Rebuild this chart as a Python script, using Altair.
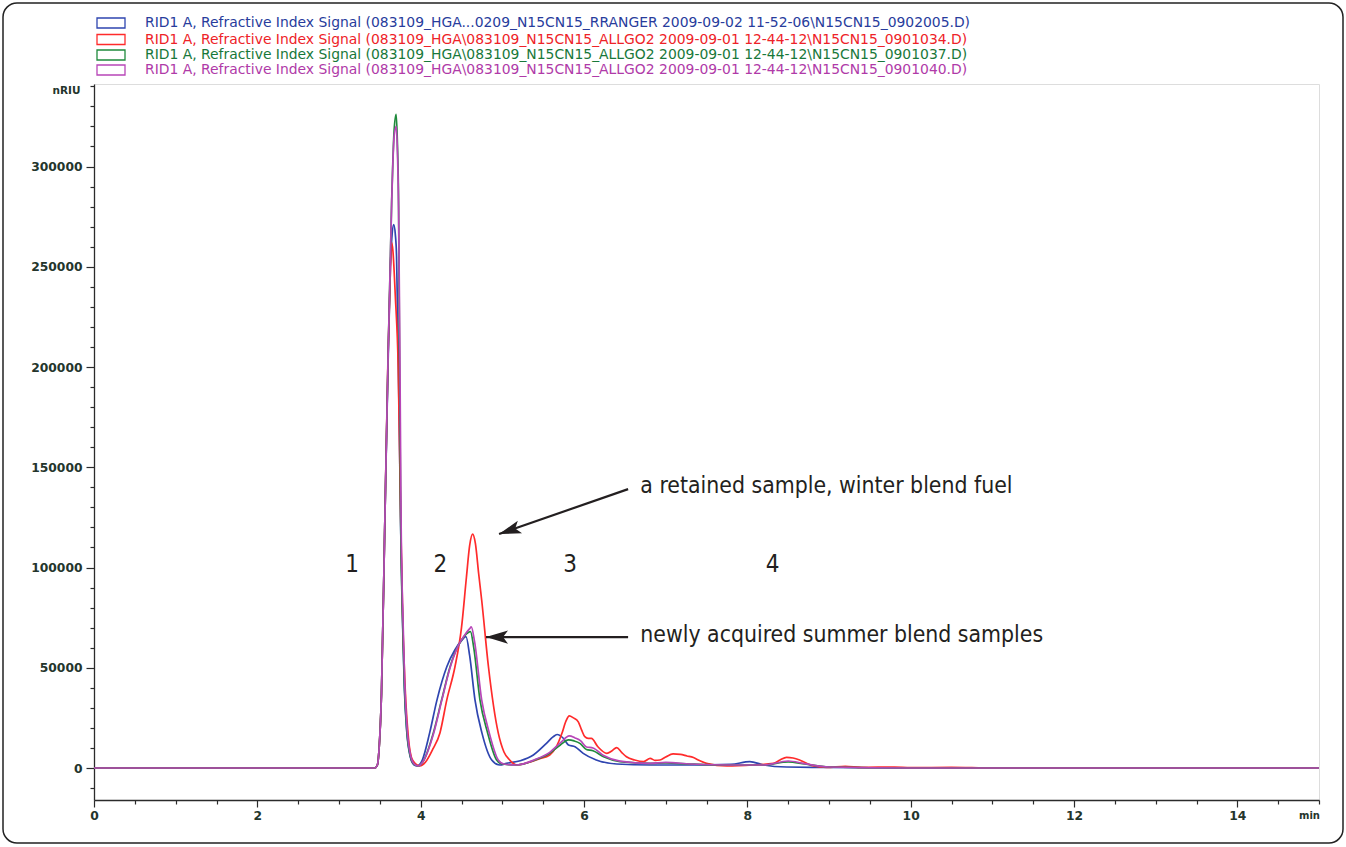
import altair as alt
import pandas as pd

# ---------------- data ----------------
series_names = [
    "RID1 A, Refractive Index Signal (083109_HGA...0209_N15CN15_RRANGER 2009-09-02 11-52-06\\N15CN15_0902005.D)",
    "RID1 A, Refractive Index Signal (083109_HGA\\083109_N15CN15_ALLGO2 2009-09-01 12-44-12\\N15CN15_0901034.D)",
    "RID1 A, Refractive Index Signal (083109_HGA\\083109_N15CN15_ALLGO2 2009-09-01 12-44-12\\N15CN15_0901037.D)",
    "RID1 A, Refractive Index Signal (083109_HGA\\083109_N15CN15_ALLGO2 2009-09-01 12-44-12\\N15CN15_0901040.D)",
]
line_colors = ["#2f45b0", "#ff2b2b", "#1f8a3c", "#b846b8"]
text_colors = ["#283c9c", "#ee2228", "#18783a", "#b03aa8"]

blue_t = [0, 3.44, 3.47, 3.49, 3.52, 3.56, 3.60, 3.63, 3.65, 3.67, 3.69, 3.705, 3.725, 3.74, 3.755,
          3.78, 3.80, 3.83, 3.87, 3.92, 3.96, 4.02, 4.11, 4.20, 4.32, 4.42, 4.50, 4.555, 4.60,
          4.665, 4.75, 4.87, 4.97, 5.05, 5.22, 5.38, 5.54, 5.62, 5.67, 5.75, 5.81, 5.89, 5.99,
          6.15, 6.40, 6.81, 7.3, 7.8, 8.03, 8.2, 8.48, 9.0, 10.0, 15.0]
blue_v = [0, 0, 1500, 9000, 37000, 120000, 200000, 250000, 266000, 271000, 266000, 255000, 205000,
          165000, 120000, 70000, 40000, 18000, 6000, 1500, 1000, 4000, 17500, 34000, 50500, 59000,
          63500, 65500, 56000, 34000, 17500, 4000, 1500, 2300, 3600, 6500, 12300, 15500, 16700,
          14700, 11500, 10600, 7300, 4000, 2000, 1500, 1500, 1800, 3200, 1500, 500, 300, 0, 0]

red_t = [0, 3.44, 3.47, 3.49, 3.52, 3.56, 3.60, 3.63, 3.645, 3.66, 3.69, 3.725, 3.755, 3.78, 3.81,
         3.85, 3.90, 3.99, 4.06, 4.15, 4.236, 4.32, 4.42, 4.50, 4.56, 4.60, 4.636, 4.67, 4.71,
         4.747, 4.83, 4.95, 5.02, 5.09, 5.175, 5.30, 5.45, 5.58, 5.66, 5.73, 5.78, 5.82, 5.87,
         5.93, 5.97, 6.01, 6.05, 6.09, 6.17, 6.28, 6.34, 6.40, 6.46, 6.52, 6.62, 6.73, 6.81,
         6.87, 6.93, 7.0, 7.09, 7.18, 7.26, 7.34, 7.42, 7.50, 7.75, 8.07, 8.32, 8.40, 8.48, 8.56,
         8.64, 8.72, 8.81, 8.97, 9.2, 9.4, 9.8, 10.0, 10.5, 11.0, 15.0]
red_v = [0, 0, 1500, 9000, 37000, 120000, 205000, 250000, 262000, 258000, 235000, 200000, 125000,
         75000, 40000, 15000, 4000, 1000, 3000, 9500, 17500, 34000, 50500, 70000, 95000, 111000,
         116600, 112000, 97000, 83800, 50500, 17500, 8000, 4000, 1500, 2500, 4500, 6500, 10500,
         17300, 23500, 26000, 25000, 23000, 19000, 15600, 14800, 14800, 10600, 7300, 8500, 10200,
         7800, 5600, 4000, 3200, 4800, 3800, 4000, 5500, 7000, 6800, 6000, 5200, 3600, 2300, 1000,
         1500, 2300, 4000, 5300, 5000, 4000, 2500, 1000, 300, 800, 300, 500, 200, 300, 0, 0]

green_t = [0, 3.44, 3.47, 3.49, 3.52, 3.56, 3.60, 3.645, 3.675, 3.70, 3.715, 3.73, 3.74, 3.755,
           3.78, 3.80, 3.83, 3.87, 3.92, 3.97, 4.04, 4.155, 4.257, 4.36, 4.46, 4.54, 4.61, 4.65,
           4.726, 4.82, 4.93, 5.0, 5.175, 5.4, 5.58, 5.71, 5.81, 5.88, 5.95, 6.03, 6.11, 6.24,
           6.44, 6.81, 7.0, 7.3, 7.8, 8.2, 8.5, 8.7, 9.0, 10.0, 15.0]
green_v = [0, 0, 1500, 9000, 37000, 120000, 203000, 283000, 318000, 326000, 312000, 280000,
           210000, 125000, 72000, 42000, 19000, 6500, 1800, 1000, 4000, 17500, 34000, 50500,
           61000, 66000, 68000, 60000, 34000, 17500, 4000, 2000, 1500, 4000, 7300, 11500, 14000,
           13500, 12300, 9200, 8600, 5600, 3200, 2300, 2500, 2000, 1500, 1500, 3000, 2000, 500, 0, 0]

magenta_t = [0, 3.44, 3.47, 3.49, 3.52, 3.56, 3.60, 3.645, 3.675, 3.70, 3.715, 3.73, 3.745, 3.76,
             3.785, 3.805, 3.835, 3.875, 3.925, 3.97, 4.04, 4.16, 4.26, 4.36, 4.46, 4.55, 4.60,
             4.62, 4.66, 4.747, 4.84, 4.95, 5.02, 5.175, 5.4, 5.58, 5.71, 5.82, 5.89, 5.96, 6.03,
             6.11, 6.24, 6.44, 6.81, 7.0, 7.3, 7.8, 8.2, 8.5, 8.7, 9.0, 10.0, 15.0]
magenta_v = [0, 0, 1500, 9000, 37000, 120000, 203000, 282000, 315000, 320000, 308000, 278000,
             210000, 125000, 72000, 42000, 19000, 6500, 1800, 1000, 4000, 17500, 34000, 50000,
             61000, 67000, 69500, 70400, 63000, 34000, 17500, 4000, 2000, 1500, 4200, 7800,
             12500, 16000, 15000, 13500, 10500, 10000, 6200, 3400, 2300, 2800, 2000, 1500, 1500,
             3500, 2200, 500, 0, 0]

series_t = [blue_t, red_t, green_t, magenta_t]
series_v = [blue_v, red_v, green_v, magenta_v]

# annotations (data coordinates)
peak_labels = ["1", "2", "3", "4"]
peak_label_t = [3.16, 4.24, 5.83, 8.31]
peak_label_v = [101000, 101000, 101000, 101000]

note_texts = ["a retained sample, winter blend fuel", "newly acquired summer blend samples"]
note_t = [6.69, 6.69]
note_v = [140600, 66300]

arrow_tail_t = [6.54, 6.54]
arrow_tail_v = [139100, 65300]
arrow_tip_t = [4.96, 4.80]
arrow_tip_v = [116700, 65300]
arrow_angle = [251.4, 270.0]

x_ticks = [i * 0.5 for i in range(31)]
y_ticks = list(range(-10000, 340001, 10000))

# ---------------- chart ----------------
W, H = 1225, 716
AXIS_COLOR = "#2b2b2b"
LABEL_COLOR = "#24352c"

x_scale = alt.Scale(domain=[0, 15], nice=False, zero=False)
y_scale = alt.Scale(domain=[-15960, 341150], nice=False, zero=False)

x_axis = alt.Axis(
    values=x_ticks,
    labelExpr="datum.value % 2 === 0 && datum.value < 15 ? datum.value : ''",
    tickSize={"condition": {"test": "datum.value % 2 === 0", "value": 7}, "value": 4},
    tickColor=AXIS_COLOR, domainColor=AXIS_COLOR, domainWidth=1.3, tickWidth=1.2,
    labelFont="DejaVu Sans", labelFontSize=12.3, labelFontWeight="bold", labelColor=LABEL_COLOR,
    labelPadding=2,
    grid=False, title="min", titleFont="DejaVu Sans", titleFontSize=10, titleFontWeight="bold",
    titleColor=LABEL_COLOR, titleX=1215, titleY=15, titleAlign="center", titleBaseline="middle",
    labelFlush=False, labelOverlap=False,
)
y_axis = alt.Axis(
    values=y_ticks,
    labelExpr="datum.value >= 0 && datum.value % 50000 === 0 ? datum.value : ''",
    tickSize={"condition": {"test": "datum.value % 50000 === 0", "value": 8}, "value": 4},
    tickColor=AXIS_COLOR, domainColor=AXIS_COLOR, domainWidth=1.3, tickWidth=1.2,
    labelFont="DejaVu Sans", labelFontSize=12.3, labelFontWeight="bold", labelColor=LABEL_COLOR,
    labelPadding=4,
    grid=False, title="nRIU", titleFont="DejaVu Sans", titleFontSize=10.5, titleFontWeight="bold",
    titleColor=LABEL_COLOR, titleAngle=0, titleX=-28, titleY=6, titleAlign="center",
    titleBaseline="middle", labelFlush=False, labelOverlap=False,
)


def X(field):
    return alt.X(field, scale=x_scale, axis=x_axis)


def Y(field):
    return alt.Y(field, scale=y_scale, axis=y_axis)


layers = []
for i in range(4):
    d = pd.DataFrame({"t": series_t[i], "v": series_v[i]})
    layers.append(
        alt.Chart(d).mark_line(color=line_colors[i], strokeWidth=1.7, interpolate="monotone",
                               clip=True).encode(x=X("t:Q"), y=Y("v:Q"))
    )

ann_font = "DejaVu Sans Condensed, Liberation Sans Narrow, sans-serif"
ann_color = "#231f20"

peaks_df = pd.DataFrame({"t": peak_label_t, "v": peak_label_v, "s": peak_labels})
layers.append(
    alt.Chart(peaks_df).mark_text(font=ann_font, fontSize=24, color=ann_color, align="center",
                                  baseline="middle").encode(x=X("t:Q"), y=Y("v:Q"), text="s:N")
)
notes_df = pd.DataFrame({"t": note_t, "v": note_v, "s": note_texts})
layers.append(
    alt.Chart(notes_df).mark_text(font=ann_font, fontSize=22.8, color=ann_color, align="left",
                                  baseline="middle").encode(x=X("t:Q"), y=Y("v:Q"), text="s:N")
)
arrows_df = pd.DataFrame({"t": arrow_tail_t, "v": arrow_tail_v, "t2": arrow_tip_t,
                          "v2": arrow_tip_v, "ang": arrow_angle})
layers.append(
    alt.Chart(arrows_df).mark_rule(color=ann_color, strokeWidth=2.2).encode(
        x=X("t:Q"), y=Y("v:Q"), x2="t2:Q", y2="v2:Q")
)
layers.append(
    alt.Chart(arrows_df).mark_point(shape="M0,0 L0.6,2 L0,1.55 L-0.6,2 Z", filled=True,
                                    opacity=1, color=ann_color, size=484, strokeWidth=0).encode(
        x=X("t2:Q"), y=Y("v2:Q"), angle=alt.Angle("ang:Q", scale=None))
)

# legend drawn at the top (pixel positions relative to the plot's origin)
row_y = [-61, -44.5, -29, -14]
for i in range(4):
    layers.append(
        alt.Chart(pd.DataFrame({"a": [0]})).mark_rect(fill="white", stroke=line_colors[i],
                                                       strokeWidth=1.3).encode(
            x=alt.value(3), x2=alt.value(31), y=alt.value(row_y[i] - 5), y2=alt.value(row_y[i] + 5))
    )
    layers.append(
        alt.Chart(pd.DataFrame({"a": [0]})).mark_text(
            text=series_names[i], font="DejaVu Sans", fontSize=13.9, color=text_colors[i],
            align="left", baseline="middle").encode(x=alt.value(51), y=alt.value(row_y[i]))
    )

# outer rounded frame
layers.append(
    alt.Chart(pd.DataFrame({"a": [0]})).mark_rect(fillOpacity=0, stroke="#222222", strokeWidth=1.5,
                                                   cornerRadius=14).encode(
        x=alt.value(-91), x2=alt.value(1249), y=alt.value(-81), y2=alt.value(759))
)

chart = alt.layer(*layers).properties(
    width=W, height=H,
    autosize=alt.AutoSizeParams(type="none"),
    padding={"left": 94, "top": 84, "right": 27, "bottom": 47},
).configure_view(strokeWidth=0, stroke="transparent").configure(background="white")

chart.save("out.html", embed_options={"renderer": "svg", "actions": False})
